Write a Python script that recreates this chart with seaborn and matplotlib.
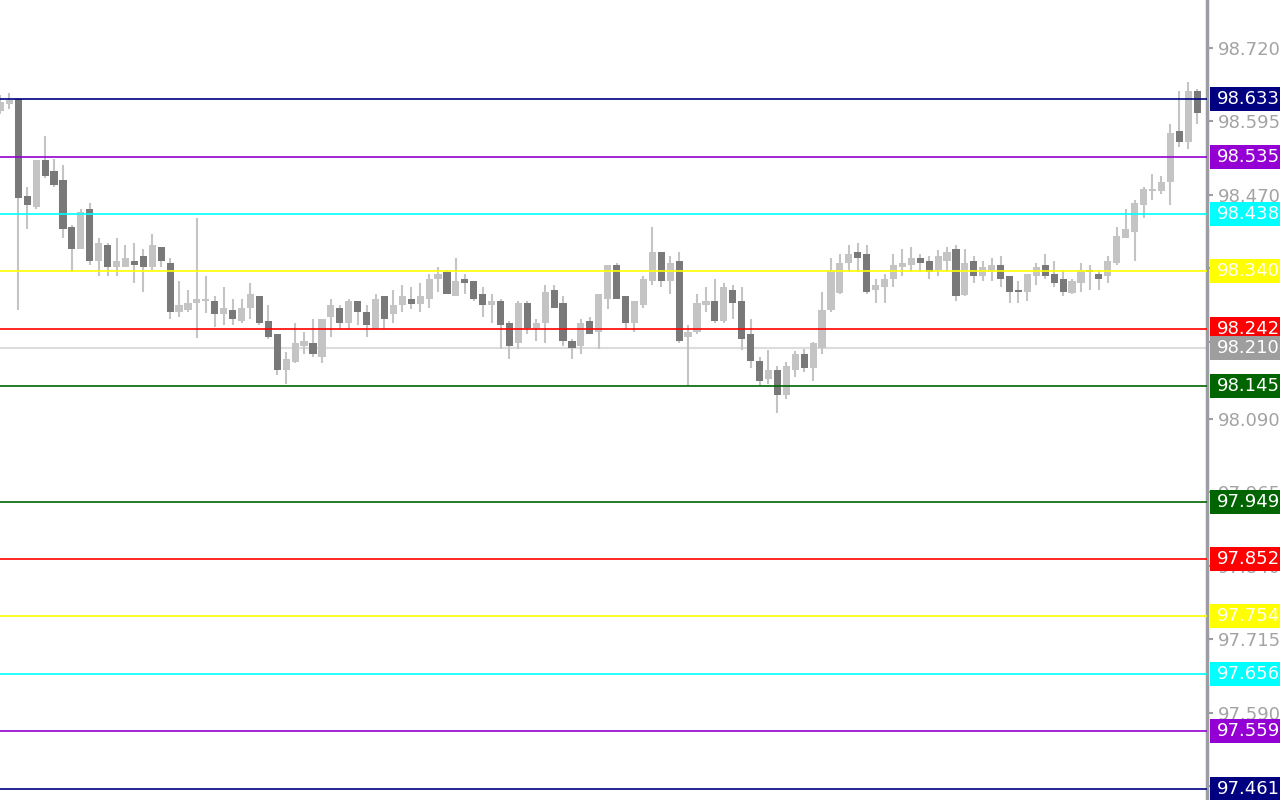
import numpy as np
import pandas as pd
import matplotlib
matplotlib.use("Agg")
import matplotlib.pyplot as plt
import seaborn as sns
from matplotlib.patches import Rectangle

# ---------------------------------------------------------------
# price data (135 bars, oldest first)
# ---------------------------------------------------------------
opens = [98.612, 98.624, 98.633, 98.468, 98.449, 98.529, 98.511, 98.495, 98.415, 98.378,
         98.446, 98.358, 98.385, 98.347, 98.347, 98.358, 98.366, 98.347, 98.381, 98.354,
         98.271, 98.274, 98.286, 98.290, 98.290, 98.268, 98.274, 98.256, 98.278, 98.298,
         98.256, 98.234, 98.172, 98.186, 98.213, 98.218, 98.195, 98.263, 98.278, 98.252,
         98.290, 98.271, 98.242, 98.298, 98.268, 98.283, 98.293, 98.285, 98.293, 98.327,
         98.339, 98.298, 98.327, 98.324, 98.302, 98.283, 98.290, 98.252, 98.218, 98.286,
         98.244, 98.252, 98.308, 98.286, 98.222, 98.213, 98.256, 98.237, 98.293, 98.351,
         98.298, 98.252, 98.283, 98.324, 98.373, 98.324, 98.358, 98.229, 98.237, 98.283,
         98.290, 98.256, 98.308, 98.290, 98.234, 98.188, 98.157, 98.172, 98.130, 98.172,
         98.200, 98.176, 98.210, 98.274, 98.303, 98.354, 98.373, 98.370, 98.308, 98.313,
         98.327, 98.347, 98.351, 98.363, 98.358, 98.342, 98.358, 98.378, 98.300, 98.358,
         98.332, 98.339, 98.351, 98.332, 98.308, 98.305, 98.332, 98.351, 98.336, 98.327,
         98.303, 98.320, 98.342, 98.336, 98.332, 98.354, 98.397, 98.407, 98.453, 98.477,
         98.477, 98.492, 98.578, 98.560, 98.646]
highs = [98.640, 98.643, 98.634, 98.483, 98.529, 98.570, 98.531, 98.521, 98.419, 98.446,
         98.456, 98.397, 98.388, 98.397, 98.385, 98.388, 98.378, 98.404, 98.381, 98.363,
         98.324, 98.308, 98.431, 98.332, 98.298, 98.313, 98.293, 98.293, 98.320, 98.298,
         98.283, 98.234, 98.203, 98.252, 98.237, 98.259, 98.259, 98.293, 98.283, 98.293,
         98.290, 98.283, 98.302, 98.298, 98.308, 98.317, 98.313, 98.320, 98.336, 98.347,
         98.342, 98.363, 98.336, 98.324, 98.313, 98.302, 98.293, 98.256, 98.290, 98.290,
         98.259, 98.317, 98.317, 98.298, 98.225, 98.259, 98.263, 98.302, 98.351, 98.354,
         98.298, 98.290, 98.332, 98.415, 98.373, 98.366, 98.373, 98.249, 98.302, 98.313,
         98.327, 98.320, 98.317, 98.313, 98.259, 98.195, 98.206, 98.179, 98.186, 98.205,
         98.208, 98.220, 98.305, 98.363, 98.370, 98.385, 98.388, 98.385, 98.327, 98.336,
         98.370, 98.378, 98.381, 98.370, 98.366, 98.376, 98.381, 98.385, 98.378, 98.366,
         98.358, 98.363, 98.366, 98.332, 98.324, 98.336, 98.354, 98.370, 98.358, 98.342,
         98.327, 98.354, 98.351, 98.342, 98.366, 98.415, 98.446, 98.461, 98.483, 98.505,
         98.502, 98.590, 98.646, 98.662, 98.650]
lows = [98.607, 98.616, 98.274, 98.412, 98.446, 98.499, 98.483, 98.397, 98.339, 98.378,
        98.351, 98.332, 98.332, 98.332, 98.347, 98.320, 98.305, 98.342, 98.347, 98.259,
        98.263, 98.271, 98.227, 98.269, 98.246, 98.249, 98.249, 98.252, 98.259, 98.249,
        98.225, 98.164, 98.149, 98.184, 98.200, 98.195, 98.184, 98.229, 98.242, 98.242,
        98.249, 98.229, 98.242, 98.242, 98.252, 98.271, 98.276, 98.271, 98.278, 98.305,
        98.302, 98.298, 98.302, 98.290, 98.263, 98.252, 98.208, 98.191, 98.208, 98.234,
        98.222, 98.218, 98.278, 98.213, 98.191, 98.200, 98.234, 98.208, 98.276, 98.293,
        98.242, 98.237, 98.278, 98.317, 98.313, 98.302, 98.218, 98.145, 98.234, 98.271,
        98.252, 98.252, 98.259, 98.206, 98.176, 98.145, 98.149, 98.099, 98.123, 98.161,
        98.169, 98.154, 98.200, 98.271, 98.302, 98.339, 98.339, 98.302, 98.286, 98.286,
        98.313, 98.332, 98.339, 98.339, 98.327, 98.332, 98.339, 98.290, 98.298, 98.320,
        98.324, 98.324, 98.313, 98.286, 98.286, 98.290, 98.317, 98.327, 98.313, 98.298,
        98.302, 98.305, 98.308, 98.308, 98.320, 98.351, 98.397, 98.358, 98.431, 98.461,
        98.471, 98.453, 98.551, 98.548, 98.590]
closes = [98.628, 98.631, 98.465, 98.453, 98.529, 98.502, 98.487, 98.412, 98.378, 98.441,
          98.358, 98.388, 98.347, 98.358, 98.363, 98.351, 98.347, 98.385, 98.358, 98.271,
          98.283, 98.286, 98.293, 98.293, 98.268, 98.278, 98.259, 98.278, 98.302, 98.252,
          98.229, 98.172, 98.191, 98.218, 98.222, 98.200, 98.259, 98.283, 98.252, 98.290,
          98.271, 98.249, 98.293, 98.259, 98.283, 98.298, 98.285, 98.298, 98.327, 98.336,
          98.302, 98.324, 98.320, 98.293, 98.283, 98.290, 98.249, 98.213, 98.286, 98.244,
          98.252, 98.305, 98.278, 98.222, 98.210, 98.252, 98.234, 98.302, 98.351, 98.293,
          98.252, 98.290, 98.327, 98.373, 98.324, 98.354, 98.222, 98.237, 98.286, 98.290,
          98.256, 98.313, 98.286, 98.225, 98.188, 98.154, 98.172, 98.130, 98.179, 98.200,
          98.176, 98.218, 98.274, 98.342, 98.354, 98.370, 98.363, 98.305, 98.317, 98.327,
          98.351, 98.354, 98.363, 98.354, 98.339, 98.366, 98.373, 98.298, 98.354, 98.332,
          98.347, 98.351, 98.327, 98.305, 98.305, 98.336, 98.347, 98.332, 98.320, 98.305,
          98.324, 98.342, 98.339, 98.327, 98.358, 98.400, 98.412, 98.456, 98.480, 98.480,
          98.492, 98.575, 98.560, 98.646, 98.609]

# horizontal levels (top to bottom) and their colours
level_prices = [98.633, 98.535, 98.438, 98.340, 98.242, 98.145,
                97.949, 97.852, 97.754, 97.656, 97.559, 97.461]
level_colors = ["#000080", "#9400D3", "#00FFFF", "#FFFF00", "#FF0000", "#006400",
                "#006400", "#FF0000", "#FFFF00", "#00FFFF", "#9400D3", "#000080"]
bid_price = 98.210

tick_values = [98.720, 98.595, 98.470, 98.345, 98.220, 98.090,
               97.965, 97.840, 97.715, 97.590, 97.465]

# ---------------------------------------------------------------
# build the frame
# ---------------------------------------------------------------
df = pd.DataFrame({"open": opens, "high": highs, "low": lows, "close": closes})
df["bar"] = np.arange(len(df))
df["up"] = df["close"] >= df["open"]
df["body_lo"] = df[["open", "close"]].min(axis=1)
df["body_h"] = (df["close"] - df["open"]).abs().clip(lower=0.0025)

UP_COLOR = "#c4c4c4"
DOWN_COLOR = "#797979"
AXIS_GRAY = "#9c9ca2"

sns.set_theme(style="white")
plt.rcParams["font.family"] = ["DejaVu Sans"]

W, H = 1280, 800
PLOT_W = 1207
fig = plt.figure(figsize=(W / 100, H / 100), dpi=100)
ax = fig.add_axes([0, 0, PLOT_W / W, 1])

y_top, y_bot = 98.801, 97.442
ax.set_ylim(y_bot, y_top)
ax.set_xlim(-0.05, 135.11)

# current price line sits behind the bars
ax.axhline(bid_price, color="#dcdcdc", lw=1.5, zorder=1)

# wicks
ax.vlines(df["bar"], df["low"], df["high"], color=UP_COLOR, lw=1.5, zorder=2)
# bodies
ax.bar(df["bar"], df["body_h"], bottom=df["body_lo"], width=0.8,
       color=np.where(df["up"], UP_COLOR, DOWN_COLOR), linewidth=0, zorder=3)

# level lines on top
for p, c in zip(level_prices, level_colors):
    ax.axhline(p, color=c, lw=1.2, zorder=4)

# axis styling (MT4 look)
sns.despine(ax=ax, left=True, bottom=True, top=True, right=False)
ax.spines["right"].set_color(AXIS_GRAY)
ax.spines["right"].set_linewidth(2.5)
ax.set_xticks([])
ax.yaxis.tick_right()
ax.set_yticks(tick_values)
ax.set_yticklabels([f"{v:.3f}" for v in tick_values])
ax.tick_params(axis="y", direction="out", length=4, width=1.5, color=AXIS_GRAY,
               pad=4, labelsize=13, labelcolor="#a3a3a3")
ax.grid(False)

# price label boxes in the right panel
pax = fig.add_axes([PLOT_W / W, 0, (W - PLOT_W) / W, 1])
pax.set_xlim(0, W - PLOT_W)
pax.set_ylim(y_bot, y_top)
pax.axis("off")
pax.patch.set_alpha(0)

box_h = 24 / (H / (y_top - y_bot))
labels = list(zip(level_prices, level_colors)) + [(bid_price, "#9e9e9e")]
for p, c in labels:
    pax.add_patch(Rectangle((3, p - box_h / 2), 80, box_h, color=c, lw=0, clip_on=False))
    pax.text(10, p, f"{p:.3f}", color="white", fontsize=13, va="center", ha="left",
             clip_on=False)

fig.savefig("out.png", dpi=100)
